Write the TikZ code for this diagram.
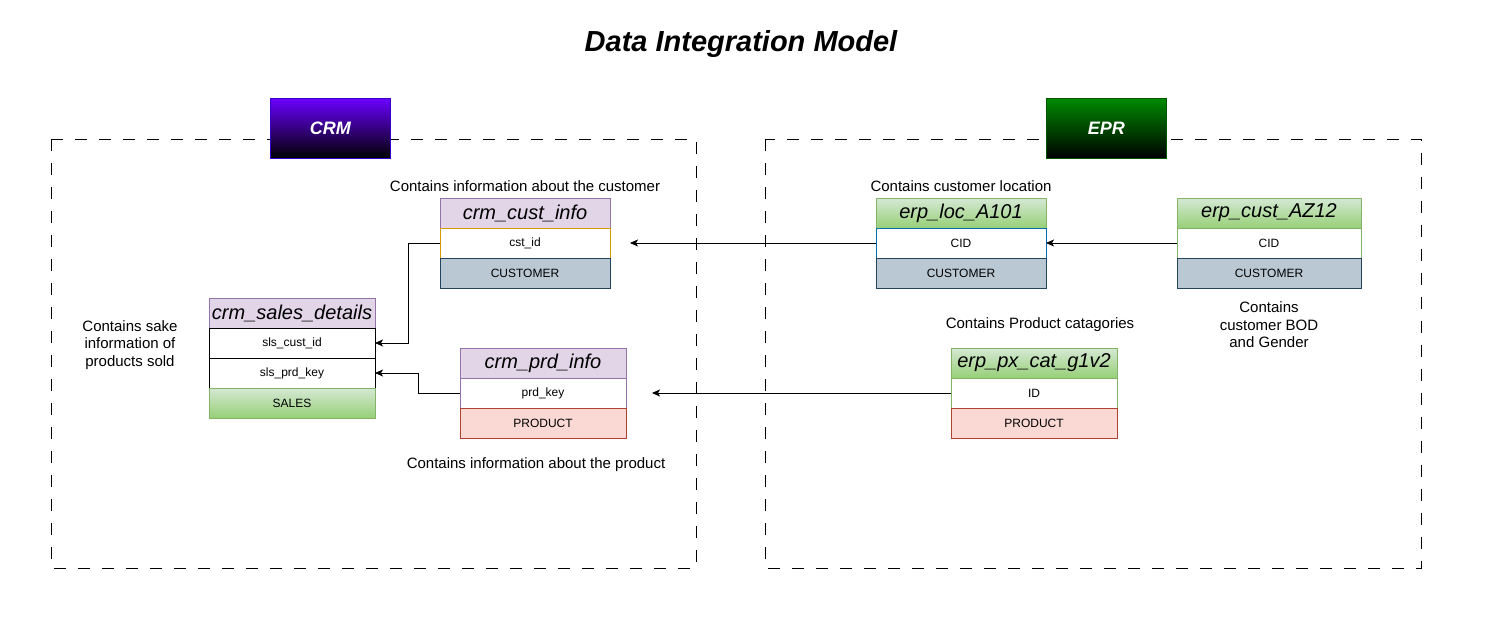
\documentclass[tikz,border=0pt]{standalone}
\usepackage{fontspec}
\setmainfont{Liberation Sans}
\usetikzlibrary{arrows.meta,calc}
\definecolor{hdrfill}{HTML}{E1D5E7}
\definecolor{hdrline}{HTML}{9673A6}
\definecolor{custfill}{HTML}{BAC8D3}
\definecolor{custline}{HTML}{23445D}
\definecolor{prodfill}{HTML}{FAD9D5}
\definecolor{prodline}{HTML}{AE4132}
\definecolor{gtop}{HTML}{D5E8D4}
\definecolor{gbot}{HTML}{97D077}
\definecolor{gline}{HTML}{82B366}
\definecolor{orangeline}{HTML}{D79B00}
\definecolor{blueline}{HTML}{006EAF}
\definecolor{crmtop}{HTML}{6A00FF}
\definecolor{crmline}{HTML}{3700CC}
\definecolor{eprtop}{HTML}{008A00}
\definecolor{eprline}{HTML}{005700}
\begin{document}
\begin{tikzpicture}[x=1pt,y=-1pt,
  cell/.style={draw, line width=0.9pt, minimum width=#1, minimum height=30, anchor=north west, inner sep=0pt, outer sep=0pt, font=\fontsize{12}{14}\selectfont},
  purplehdr/.style={fill=hdrfill, draw=hdrline, font=\fontsize{20}{24}\selectfont\itshape},
  greenhdr/.style={top color=gtop, bottom color=gbot, draw=gline, font=\fontsize{20}{24}\selectfont\itshape},
  custcat/.style={fill=custfill, draw=custline},
  prodcat/.style={fill=prodfill, draw=prodline},
  salescat/.style={top color=gtop, bottom color=gbot, draw=gline},
  note/.style={align=center, font=\fontsize{15}{17.5}\selectfont, inner sep=0pt},
  area/.style={draw, line width=0.9pt, dash pattern=on 12pt off 12pt},
  sysbox/.style={minimum width=120, minimum height=60, anchor=north west, inner sep=0pt, line width=0.9pt, text=white, font=\fontsize{18}{21}\selectfont\bfseries\itshape},
  conn/.style={draw, line width=0.9pt, -{Stealth[length=8pt,width=7pt,inset=2pt]}}
]
\useasboundingbox (0,0) rectangle (1490,621);

% title
\node[font=\fontsize{29}{34}\selectfont\bfseries\itshape] (title) at (741,44) {Data Integration Model};

% areas
\draw[area] (51,139) rectangle (696,568);
\draw[area] (765,139) rectangle (1421,568);
\node[sysbox, top color=crmtop, bottom color=black, draw=crmline] (crm) at (270,98) {CRM};
\node[sysbox, top color=eprtop, bottom color=black, draw=eprline] (epr) at (1046,98) {EPR};

% crm_cust_info
\node[cell=170, purplehdr] (ci) at (440,198) {crm\_cust\_info};
\node[cell=170, fill=white, draw=orangeline] (ci1) at (440,228) {cst\_id};
\node[cell=170, custcat] (ci2) at (440,258) {CUSTOMER};
\node[note, anchor=south] (cinote) at (525,192) {Contains information about the customer};

% crm_sales_details
\node[cell=166, purplehdr] (sd) at (209,298) {crm\_sales\_details};
\node[cell=166, fill=white, draw=black] (sd1) at (209,328) {sls\_cust\_id};
\node[cell=166, fill=white, draw=black] (sd2) at (209,358) {sls\_prd\_key};
\node[cell=166, salescat] (sd3) at (209,388) {SALES};
\node[note] (sdnote) at (130,345) {Contains sake\\information of\\products sold};

% crm_prd_info
\node[cell=166, purplehdr] (pi) at (460,348) {crm\_prd\_info};
\node[cell=166, fill=white, draw=hdrline] (pi1) at (460,378) {prd\_key};
\node[cell=166, prodcat] (pi2) at (460,408) {PRODUCT};
\node[note] (pinote) at (536,465) {Contains information about the product};

% erp_loc_A101
\node[cell=170, greenhdr] (loc) at (876,198) {erp\_loc\_A101};
\node[cell=170, fill=white, draw=blueline] (loc1) at (876,228) {CID};
\node[cell=170, custcat] (loc2) at (876,258) {CUSTOMER};
\node[note, anchor=south] (locnote) at (961,192) {Contains customer location};

% erp_cust_AZ12
\node[cell=184, greenhdr] (az) at (1177,198) {erp\_cust\_AZ12};
\node[cell=184, fill=white, draw=gline] (az1) at (1177,228) {CID};
\node[cell=184, custcat] (az2) at (1177,258) {CUSTOMER};
\node[note] (aznote) at (1269,325) {Contains\\customer BOD\\and Gender};

% erp_px_cat_g1v2
\node[cell=166, greenhdr] (px) at (951,348) {erp\_px\_cat\_g1v2};
\node[cell=166, fill=white, draw=gline] (px1) at (951,378) {ID};
\node[cell=166, prodcat] (px2) at (951,408) {PRODUCT};
\node[note] (pxnote) at (1040,325) {Contains Product catagories};

% connectors
\coordinate (custend) at ($(ci1.east)+(20,0)$);
\coordinate (prodend) at ($(pi1.east)+(26,0)$);
\draw[conn] (az1.west) -- (loc1.east);
\draw[conn] (loc1.west) -- (custend);
\draw[conn] (ci1.west) -- ++(-32,0) |- (sd1.east);
\draw[conn] (pi1.west) -- ++(-42,0) |- (sd2.east);
\draw[conn] (px1.west) -- (prodend);
\end{tikzpicture}
\end{document}
